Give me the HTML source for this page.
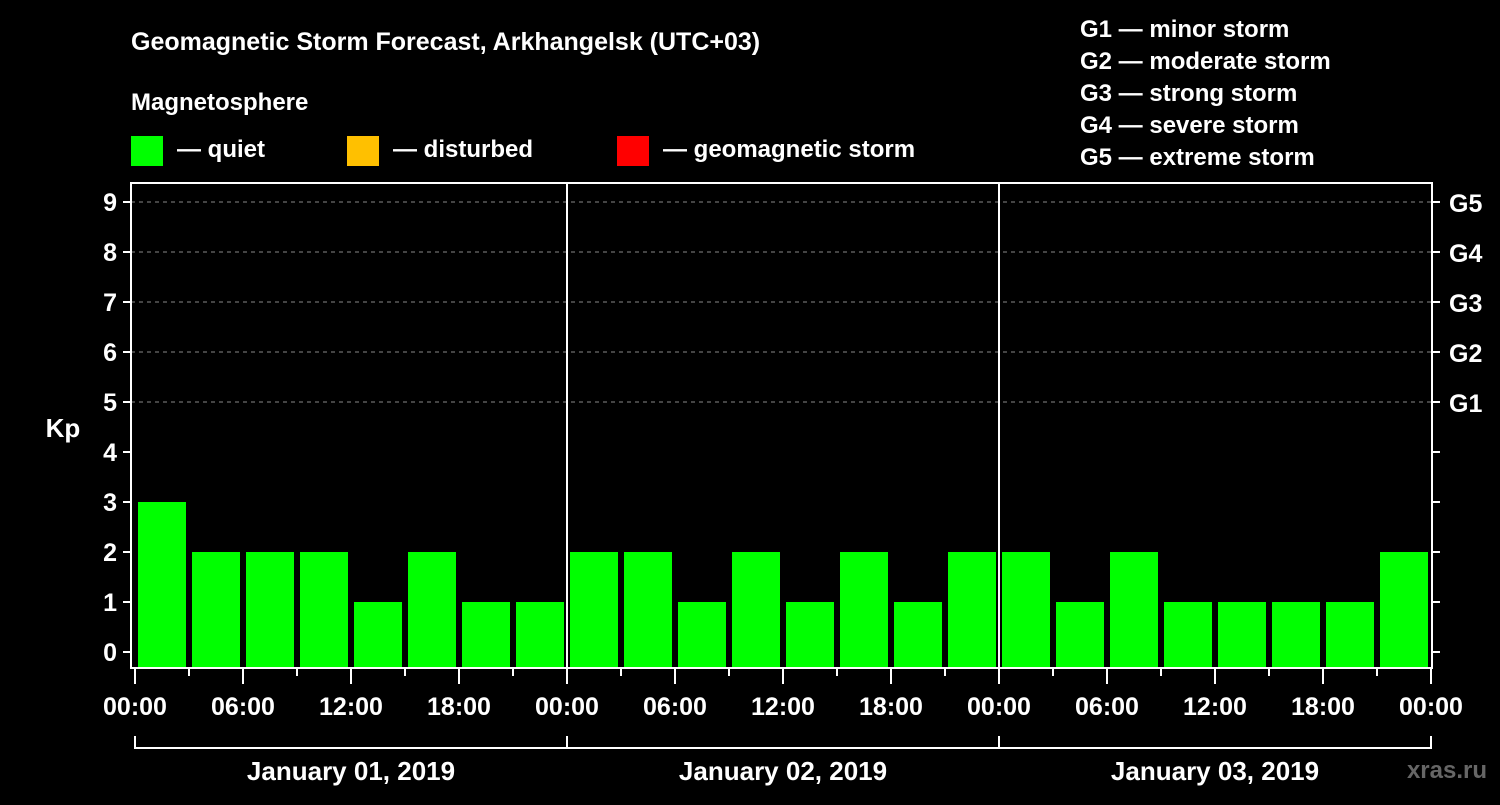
<!DOCTYPE html>
<html><head><meta charset="utf-8"><style>
body{margin:0;background:#000;}
svg text{font-family:"Liberation Sans",sans-serif;font-weight:bold;fill:#fff;}
</style></head><body>
<svg id="c" width="1500" height="800" viewBox="0 0 1500 800">
<rect width="1500" height="800" fill="#000"/>
<text x="131" y="50" font-size="25">Geomagnetic Storm Forecast, Arkhangelsk (UTC+03)</text>
<text x="131" y="110" font-size="24">Magnetosphere</text>
<g><rect x="131" y="136" width="32" height="30" fill="#00ff00"/><text x="177" y="157" font-size="24">— quiet</text></g>
<g><rect x="347" y="136" width="32" height="30" fill="#ffc000"/><text x="393" y="157" font-size="24">— disturbed</text></g>
<g><rect x="617" y="136" width="32" height="30" fill="#ff0000"/><text x="663" y="157" font-size="24">— geomagnetic storm</text></g>
<g font-size="24">
<text x="1080" y="37">G1 — minor storm</text>
<text x="1080" y="69">G2 — moderate storm</text>
<text x="1080" y="101">G3 — strong storm</text>
<text x="1080" y="133">G4 — severe storm</text>
<text x="1080" y="165">G5 — extreme storm</text>
</g>
<text x="63" y="437" font-size="26" text-anchor="middle">Kp</text>
<text x="1487" y="778" font-size="24" text-anchor="end" fill="#555" style="fill:#666">xras.ru</text>
<g id="plot"></g>
</svg>
<script>
const kpValues = [3,2,2,2,1,2,1,1, 2,2,1,2,1,2,1,2, 2,1,2,1,1,1,1,2];
const dayLabels = ["January 01, 2019","January 02, 2019","January 03, 2019"];
const hourLabels = ["00:00","06:00","12:00","18:00"];
const yTicks = [0,1,2,3,4,5,6,7,8,9];
const gLabels = ["G1","G2","G3","G4","G5"];
const ns="http://www.w3.org/2000/svg";
const g=document.getElementById('plot');
const L=131,R=1432,T=183,B=668,X0=135,dayW=432;
const x=h=>X0+h*dayW/24;
const y=v=>652-50*v;
function mk(t,a,parent){const e=document.createElementNS(ns,t);for(const k in a)e.setAttribute(k,a[k]);(parent||g).appendChild(e);return e;}
// grid
for(let v=5;v<=9;v++){
const e=mk('line',{x1:L,x2:R,y1:y(v),y2:y(v),stroke:'#888','stroke-dasharray':'4,4','stroke-width':1});


}
// bars
kpValues.forEach((v,i)=>{
const c=v>=5?'#ff0000':(v>=4?'#ffc000':'#00ff00');
const e=mk('rect',{x:x(i*3)+3,y:y(v),width:dayW/8-6,height:B-1-y(v),fill:c});


});
// frame
const f=mk('rect',{x:L,y:T,width:R-L,height:B-T,fill:'none',stroke:'#fff','stroke-width':2});


for(let d=1;d<dayLabels.length;d++){
const e=mk('line',{x1:x(d*24),x2:x(d*24),y1:T,y2:B,stroke:'#fff','stroke-width':2});


}
// y ticks
yTicks.forEach(v=>{
mk('line',{x1:L-8,x2:L,y1:y(v),y2:y(v),stroke:'#fff','stroke-width':2});
mk('line',{x1:R,x2:R+8,y1:y(v),y2:y(v),stroke:'#fff','stroke-width':2});
const t=mk('text',{x:L-14,y:y(v)+9,'font-size':25,'text-anchor':'end'});t.textContent=v;


});
gLabels.forEach((s,i)=>{
const t=mk('text',{x:1449,y:y(5+i)+10,'font-size':25});t.textContent=s;


});
// x ticks
for(let h=0;h<=72;h+=3){
const major=h%6===0;
mk('line',{x1:x(h),x2:x(h),y1:B,y2:B+(major?16:8),stroke:'#fff','stroke-width':2});
if(major){const t=mk('text',{x:x(h),y:715,'font-size':25,'text-anchor':'middle'});t.textContent=hourLabels[(h/6)%4];

}
}
// day brackets
dayLabels.forEach((s,d)=>{
mk('path',{d:`M${x(d*24)} 736V748H${x(d*24+24)}V736`,fill:'none',stroke:'#fff','stroke-width':2});
const t=mk('text',{x:x(d*24+12),y:780,'font-size':26,'text-anchor':'middle'});t.textContent=s;


});
</script>
</body></html>
